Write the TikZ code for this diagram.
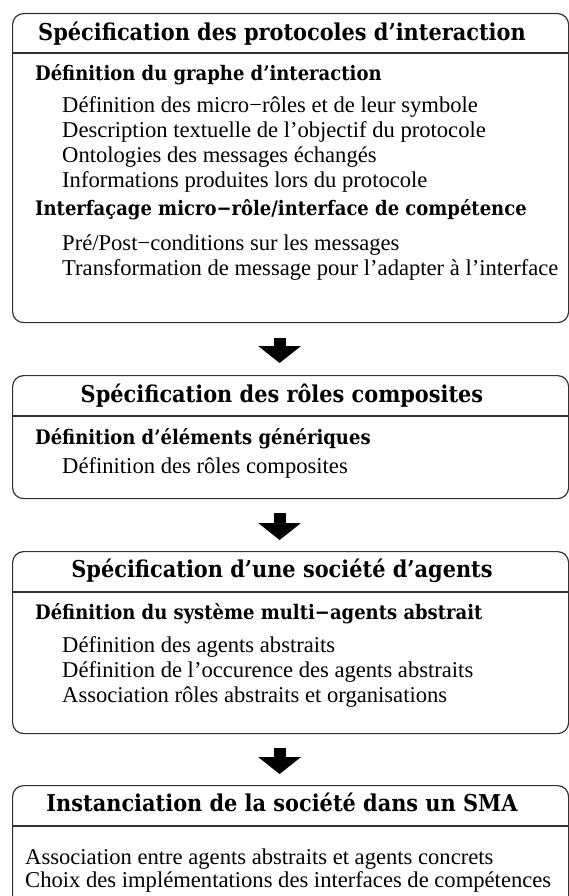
\documentclass[tikz,border=0pt]{standalone}
\usepackage{fontspec}
\setmainfont{Liberation Serif}
\newfontfamily\headfont{DejaVu Serif Condensed}
\usetikzlibrary{arrows.meta}
\begin{document}
\begin{tikzpicture}[x=1pt,y=-1pt]
\tikzset{
  panel/.style={draw=black!80, line width=1.2pt, rounded corners=11pt,
    anchor=north west, inner sep=0pt, minimum width=556pt},
  rule/.style={draw=black!80, line width=1.2pt},
  titletext/.style={font=\headfont\bfseries\fontsize{23.2}{26}\selectfont,
    anchor=base, inner sep=0pt},
  subtext/.style={font=\headfont\bfseries\fontsize{20}{23}\selectfont,
    anchor=base west, inner sep=0pt},
  itemtext/.style={font=\fontsize{22.6}{26}\selectfont,
    anchor=base west, inner sep=0pt},
  flow/.style={line width=12pt, -{Triangle[width=42pt,length=17pt]}, black},
}
\useasboundingbox (0,0) rectangle (569,896);
\clip (0,0) rectangle (569,896);

% stage 1: interaction protocols
\node[panel, minimum height=309pt] (p1) at (12,13) {};
\draw[rule] (12,53) -- (568,53);
\node[titletext] (t1) at (282,41) {Spécification des protocoles d’interaction};
\node[subtext] (s11) at (35,81) {Définition du graphe d’interaction};
\node[itemtext] (i11) at (62,113) {Définition des micro−rôles et de leur symbole};
\node[itemtext] (i12) at (62,138) {Description textuelle de l’objectif du protocole};
\node[itemtext] (i13) at (62,163) {Ontologies des messages échangés};
\node[itemtext] (i14) at (62,188) {Informations produites lors du protocole};
\node[subtext] (s12) at (35,215) {Interfaçage micro−rôle/interface de compétence};
\node[itemtext] (i15) at (62,250) {Pré/Post−conditions sur les messages};
\node[itemtext] (i16) at (62,275) {Transformation de message pour l’adapter à l’interface};

% stage 2: composite roles
\node[panel, minimum height=123pt] (p2) at (12,375) {};
\draw[rule] (12,416) -- (568,416);
\node[titletext] (t2) at (282,402) {Spécification des rôles composites};
\node[subtext] (s21) at (35,444) {Définition d’éléments génériques};
\node[itemtext] (i21) at (62,473) {Définition des rôles composites};

% stage 3: agent society
\node[panel, minimum height=182pt] (p3) at (12,551) {};
\draw[rule] (12,592) -- (568,592);
\node[titletext] (t3) at (282,577) {Spécification d’une société d’agents};
\node[subtext] (s31) at (35,619) {Définition du système multi−agents abstrait};
\node[itemtext] (i31) at (62,652) {Définition des agents abstraits};
\node[itemtext] (i32) at (62,677) {Définition de l’occurence des agents abstraits};
\node[itemtext] (i33) at (62,702) {Association rôles abstraits et organisations};

% stage 4: MAS instantiation
\node[panel, minimum height=140pt] (p4) at (12,785) {};
\draw[rule] (12,826) -- (568,826);
\node[titletext] (t4) at (282,811) {Instanciation de la société dans un SMA};
\node[itemtext] (i41) at (25,864) {Association entre agents abstraits et agents concrets};
\node[itemtext] (i42) at (25,887) {Choix des implémentations des interfaces de compétences};

% flow between stages
\draw[flow] ([xshift=-11pt,yshift=-15pt]p1.south) -- ([xshift=-11pt,yshift=12pt]p2.north);
\draw[flow] ([xshift=-11pt,yshift=-14pt]p2.south) -- ([xshift=-11pt,yshift=11pt]p3.north);
\draw[flow] ([xshift=-11pt,yshift=-14pt]p3.south) -- ([xshift=-11pt,yshift=11pt]p4.north);
\end{tikzpicture}
\end{document}
